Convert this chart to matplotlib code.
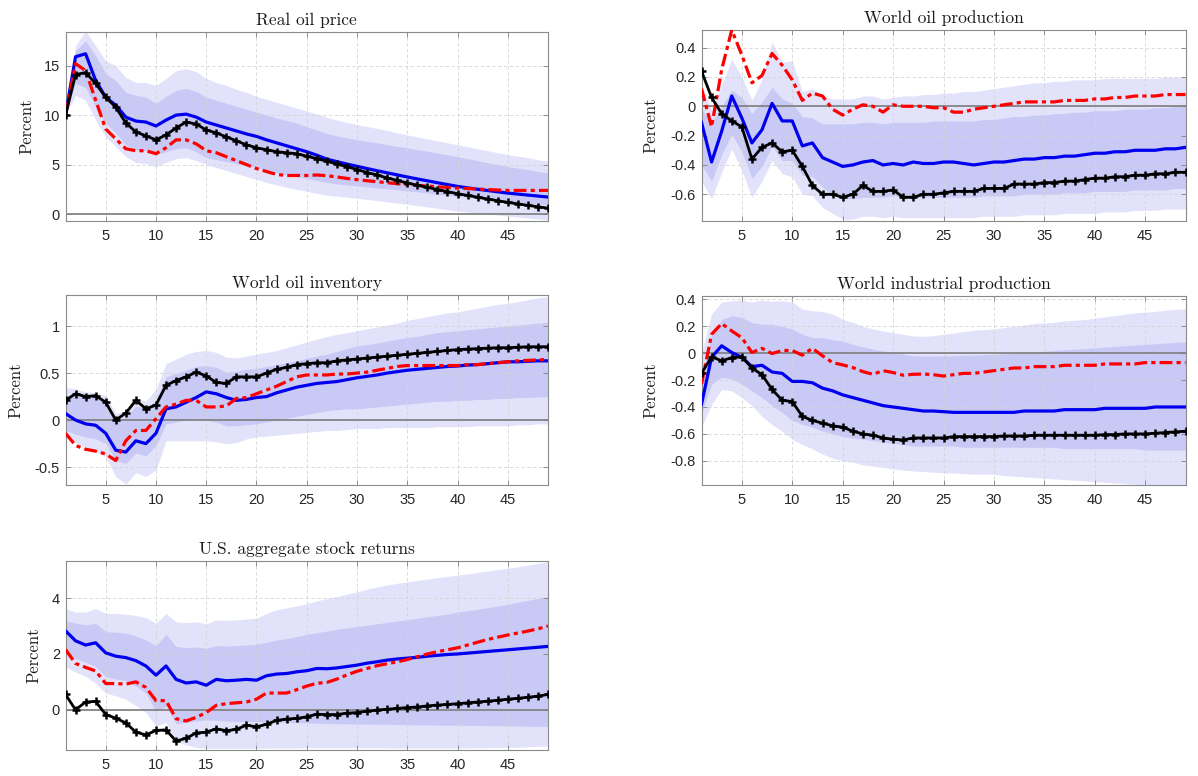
import numpy as np
import matplotlib.pyplot as plt

plt.rcParams['axes.unicode_minus'] = False

horizon = np.arange(1, 50)

# ---- Real oil price
price_blue = [10, 15.9, 16.2, 13.5, 11.8, 11.0, 9.8, 9.4, 9.3, 8.9,
              9.5, 10.0, 10.1, 9.8, 9.3, 9.0, 8.7, 8.4, 8.1, 7.85,
              7.5, 7.2, 6.9, 6.6, 6.3, 5.95, 5.55, 5.3, 5.05, 4.83,
              4.6, 4.38, 4.17, 3.96, 3.75, 3.55, 3.36, 3.17, 2.98, 2.8,
              2.65, 2.51, 2.38, 2.25, 2.12, 2.02, 1.92, 1.82, 1.72]
price_red = [10, 15.2, 14.5, 11.5, 8.6, 7.6, 6.6, 6.4, 6.4, 6.1,
             6.7, 7.5, 7.5, 7.1, 6.4, 6.2, 5.8, 5.4, 5.0, 4.6,
             4.3, 4.0, 3.9, 3.9, 3.9, 3.95, 3.88, 3.75, 3.6, 3.48,
             3.37, 3.27, 3.17, 3.07, 2.97, 2.9, 2.83, 2.76, 2.69, 2.63,
             2.58, 2.53, 2.48, 2.43, 2.39, 2.39, 2.39, 2.39, 2.39]
price_black = [10, 14.1, 14.3, 13.2, 11.8, 10.8, 9.2, 8.3, 7.9, 7.5,
               8.0, 8.7, 9.3, 9.1, 8.5, 8.2, 7.8, 7.4, 7.0, 6.7,
               6.5, 6.3, 6.2, 6.1, 5.85, 5.6, 5.35, 5.05, 4.8, 4.5,
               4.2, 3.95, 3.65, 3.4, 3.14, 2.92, 2.7, 2.48, 2.27, 2.06,
               1.88, 1.7, 1.52, 1.35, 1.18, 1.03, 0.88, 0.74, 0.6]
price_hi90 = [10, 17.0, 18.5, 17.0, 15.5, 15.0, 13.8, 13.3, 13.3, 13.0,
              13.7, 14.5, 14.7, 14.4, 13.7, 13.3, 13.0, 12.6, 12.3, 11.9,
              11.6, 11.3, 11.0, 10.7, 10.4, 10.1, 9.8, 9.5, 9.25, 9.05,
              8.85, 8.65, 8.45, 8.2, 8.0, 7.8, 7.6, 7.4, 7.2, 7.0,
              6.8, 6.6, 6.4, 6.2, 6.0, 5.85, 5.7, 5.5, 5.33]
price_hi68 = [10, 16.5, 17.5, 16.0, 14.2, 13.5, 12.3, 12.0, 11.8, 11.2,
              11.9, 12.5, 12.7, 12.4, 11.8, 11.5, 11.2, 10.9, 10.6, 10.3,
              10.0, 9.7, 9.45, 9.2, 8.8, 8.5, 8.15, 7.9, 7.7, 7.5,
              7.35, 7.2, 7.0, 6.85, 6.7, 6.5, 6.35, 6.15, 6.0, 5.8,
              5.6, 5.4, 5.2, 5.0, 4.8, 4.65, 4.5, 4.3, 4.15]
price_lo68 = [10, 13.2, 12.8, 10.8, 9.2, 8.2, 7.0, 6.5, 6.4, 6.0,
              6.3, 6.6, 6.7, 6.3, 5.7, 5.5, 5.3, 5.1, 4.9, 4.7,
              4.45, 4.2, 4.0, 3.8, 3.6, 3.4, 3.2, 3.05, 2.95, 2.85,
              2.75, 2.65, 2.55, 2.45, 2.35, 2.25, 2.12, 2.0, 1.9, 1.8,
              1.7, 1.6, 1.5, 1.4, 1.3, 1.2, 1.1, 1.0, 0.95]
price_lo90 = [10, 12.0, 11.5, 9.5, 7.8, 6.8, 5.8, 5.2, 5.1, 4.8,
              5.2, 5.6, 5.7, 5.4, 5.0, 4.7, 4.4, 4.1, 3.8, 3.5,
              3.2, 2.95, 2.7, 2.5, 2.3, 2.1, 1.9, 1.8, 1.7, 1.6,
              1.48, 1.36, 1.24, 1.12, 1.0, 0.86, 0.72, 0.58, 0.44, 0.3,
              0.2, 0.1, 0.0, -0.1, -0.2, -0.3, -0.4, -0.5, -0.6]

# ---- World oil production
prod_blue = [-0.11, -0.38, -0.17, 0.07, -0.08, -0.25, -0.16, 0.02, -0.10, -0.10,
             -0.27, -0.25, -0.35, -0.38, -0.41, -0.40, -0.38, -0.37, -0.40, -0.39,
             -0.40, -0.38, -0.39, -0.39, -0.38, -0.38, -0.39, -0.40, -0.39, -0.38,
             -0.38, -0.37, -0.36, -0.36, -0.35, -0.35, -0.34, -0.34, -0.33, -0.32,
             -0.32, -0.31, -0.31, -0.30, -0.30, -0.30, -0.29, -0.29, -0.28]
prod_red = [0.12, -0.14, 0.25, 0.52, 0.35, 0.16, 0.21, 0.36, 0.28, 0.18,
            0.04, 0.09, 0.07, -0.02, -0.06, -0.02, 0.01, 0.00, -0.04, 0.01,
            0.00, 0.00, 0.00, -0.01, -0.01, -0.04, -0.04, -0.02, -0.01, 0.00,
            0.01, 0.02, 0.03, 0.03, 0.03, 0.03, 0.04, 0.04, 0.04, 0.05,
            0.05, 0.06, 0.06, 0.07, 0.07, 0.07, 0.08, 0.08, 0.08]
prod_black = [0.24, 0.06, -0.05, -0.10, -0.14, -0.36, -0.28, -0.25, -0.31, -0.30,
              -0.41, -0.54, -0.60, -0.60, -0.62, -0.60, -0.54, -0.58, -0.58, -0.57,
              -0.62, -0.62, -0.60, -0.60, -0.59, -0.58, -0.58, -0.58, -0.56, -0.56,
              -0.56, -0.53, -0.53, -0.53, -0.52, -0.52, -0.51, -0.51, -0.50, -0.49,
              -0.49, -0.48, -0.48, -0.47, -0.47, -0.46, -0.46, -0.45, -0.45]
prod_hi90 = [0.15, -0.03, 0.15, 0.32, 0.2, 0.04, 0.18, 0.44, 0.3, 0.31,
             0.1, 0.12, 0.07, 0.05, 0.05, 0.05, 0.07, 0.07, 0.05, 0.06,
             0.07, 0.07, 0.08, 0.08, 0.09, 0.09, 0.1, 0.1, 0.11, 0.12,
             0.13, 0.14, 0.15, 0.16, 0.16, 0.17, 0.17, 0.18, 0.18, 0.18,
             0.19, 0.19, 0.19, 0.19, 0.19, 0.19, 0.2, 0.2, 0.2]
prod_hi68 = [-0.02, -0.11, 0.0, 0.11, 0.06, -0.05, 0.03, 0.13, 0.05, 0.02,
             -0.07, -0.08, -0.12, -0.12, -0.12, -0.12, -0.11, -0.11, -0.12, -0.11,
             -0.11, -0.11, -0.11, -0.1, -0.1, -0.1, -0.1, -0.1, -0.09, -0.09,
             -0.08, -0.07, -0.07, -0.06, -0.06, -0.05, -0.05, -0.04, -0.04, -0.03,
             -0.03, -0.03, -0.02, -0.02, -0.02, -0.01, -0.01, 0.0, 0.0]
prod_lo68 = [-0.4, -0.51, -0.33, -0.19, -0.31, -0.49, -0.41, -0.27, -0.37, -0.37,
             -0.47, -0.48, -0.55, -0.61, -0.63, -0.63, -0.62, -0.62, -0.62, -0.61,
             -0.62, -0.62, -0.62, -0.62, -0.62, -0.62, -0.62, -0.62, -0.61, -0.61,
             -0.61, -0.61, -0.6, -0.6, -0.6, -0.6, -0.59, -0.59, -0.59, -0.58,
             -0.58, -0.58, -0.58, -0.57, -0.57, -0.57, -0.57, -0.56, -0.56]
prod_lo90 = [-0.51, -0.63, -0.45, -0.29, -0.44, -0.62, -0.51, -0.37, -0.46, -0.48,
             -0.6, -0.61, -0.69, -0.73, -0.77, -0.77, -0.75, -0.75, -0.76, -0.75,
             -0.76, -0.76, -0.76, -0.76, -0.76, -0.76, -0.76, -0.76, -0.75, -0.75,
             -0.75, -0.75, -0.74, -0.74, -0.74, -0.74, -0.73, -0.73, -0.73, -0.73,
             -0.72, -0.72, -0.72, -0.71, -0.71, -0.71, -0.7, -0.7, -0.7]

# ---- World oil inventory
inv_blue = [0.07, 0.0, -0.04, -0.055, -0.14, -0.32, -0.34, -0.22, -0.25, -0.14,
            0.12, 0.14, 0.19, 0.24, 0.30, 0.28, 0.24, 0.21, 0.22, 0.24,
            0.25, 0.29, 0.32, 0.35, 0.37, 0.39, 0.40, 0.41, 0.43, 0.45,
            0.465, 0.48, 0.50, 0.515, 0.53, 0.54, 0.55, 0.56, 0.57, 0.575,
            0.585, 0.59, 0.60, 0.61, 0.62, 0.62, 0.625, 0.63, 0.63]
inv_red = [-0.14, -0.27, -0.31, -0.33, -0.36, -0.43, -0.22, -0.11, -0.11, 0.015,
           0.14, 0.17, 0.21, 0.21, 0.14, 0.14, 0.15, 0.23, 0.24, 0.28,
           0.32, 0.36, 0.41, 0.46, 0.48, 0.48, 0.48, 0.49, 0.49, 0.50,
           0.51, 0.53, 0.55, 0.57, 0.58, 0.58, 0.58, 0.58, 0.58, 0.58,
           0.59, 0.59, 0.60, 0.61, 0.62, 0.63, 0.635, 0.64, 0.645]
inv_black = [0.21, 0.28, 0.25, 0.26, 0.19, 0.0, 0.075, 0.21, 0.12, 0.16,
             0.37, 0.42, 0.46, 0.51, 0.47, 0.40, 0.39, 0.46, 0.46, 0.46,
             0.50, 0.54, 0.56, 0.59, 0.60, 0.61, 0.61, 0.63, 0.64, 0.65,
             0.66, 0.67, 0.68, 0.69, 0.70, 0.71, 0.72, 0.73, 0.74, 0.75,
             0.755, 0.76, 0.765, 0.77, 0.77, 0.775, 0.78, 0.78, 0.78]
inv_hi90 = [0.35, 0.33, 0.3, 0.29, 0.26, 0.07, 0.1, 0.23, 0.2, 0.33,
            0.6, 0.65, 0.7, 0.73, 0.74, 0.72, 0.67, 0.66, 0.68, 0.7,
            0.72, 0.74, 0.77, 0.8, 0.83, 0.86, 0.89, 0.91, 0.93, 0.95,
            0.97, 0.99, 1.01, 1.03, 1.06, 1.08, 1.1, 1.12, 1.14, 1.15,
            1.17, 1.19, 1.21, 1.23, 1.24, 1.26, 1.28, 1.3, 1.31]
inv_hi68 = [0.26, 0.27, 0.25, 0.24, 0.19, 0.0, 0.03, 0.15, 0.12, 0.21,
            0.46, 0.5, 0.53, 0.57, 0.58, 0.56, 0.51, 0.52, 0.54, 0.55,
            0.57, 0.59, 0.61, 0.63, 0.66, 0.68, 0.7, 0.73, 0.76, 0.79,
            0.8, 0.82, 0.84, 0.86, 0.88, 0.89, 0.91, 0.93, 0.94, 0.95,
            0.96, 0.97, 0.98, 0.99, 1.0, 1.01, 1.02, 1.03, 1.04]
inv_lo68 = [-0.11, -0.15, -0.18, -0.2, -0.25, -0.43, -0.46, -0.35, -0.38, -0.27,
            -0.04, -0.02, 0.0, 0.02, 0.0, -0.02, -0.06, -0.06, -0.05, -0.04,
            -0.02, 0.0, 0.02, 0.04, 0.06, 0.08, 0.1, 0.11, 0.12, 0.12,
            0.13, 0.14, 0.15, 0.16, 0.17, 0.18, 0.19, 0.2, 0.2, 0.21,
            0.21, 0.22, 0.22, 0.23, 0.23, 0.24, 0.24, 0.245, 0.25]
inv_lo90 = [-0.18, -0.24, -0.29, -0.33, -0.39, -0.6, -0.68, -0.56, -0.6, -0.53,
            -0.22, -0.22, -0.22, -0.22, -0.22, -0.23, -0.25, -0.24, -0.2, -0.18,
            -0.17, -0.16, -0.15, -0.14, -0.13, -0.12, -0.11, -0.11, -0.1, -0.09,
            -0.09, -0.09, -0.08, -0.08, -0.08, -0.08, -0.08, -0.07, -0.07, -0.07,
            -0.07, -0.06, -0.06, -0.06, -0.06, -0.05, -0.05, -0.04, -0.04]

# ---- World industrial production
ip_blue = [-0.38, -0.03, 0.055, 0.005, -0.03, -0.1, -0.09, -0.14, -0.15, -0.21,
           -0.21, -0.22, -0.26, -0.28, -0.31, -0.33, -0.35, -0.37, -0.39, -0.40,
           -0.41, -0.42, -0.43, -0.43, -0.435, -0.44, -0.44, -0.44, -0.44, -0.44,
           -0.44, -0.44, -0.43, -0.43, -0.43, -0.43, -0.42, -0.42, -0.42, -0.42,
           -0.41, -0.41, -0.41, -0.41, -0.41, -0.40, -0.40, -0.40, -0.40]
ip_red = [-0.23, 0.14, 0.22, 0.165, 0.115, 0.005, 0.036, -0.003, 0.02, 0.02,
          -0.015, 0.036, -0.02, -0.07, -0.087, -0.107, -0.137, -0.157, -0.13, -0.144,
          -0.164, -0.157, -0.155, -0.16, -0.17, -0.16, -0.15, -0.15, -0.14, -0.13,
          -0.12, -0.11, -0.11, -0.10, -0.10, -0.10, -0.09, -0.09, -0.09, -0.09,
          -0.08, -0.08, -0.08, -0.08, -0.07, -0.07, -0.07, -0.07, -0.07]
ip_black = [-0.15, -0.027, -0.057, -0.033, -0.027, -0.11, -0.16, -0.27, -0.35, -0.36,
            -0.47, -0.50, -0.52, -0.54, -0.55, -0.58, -0.60, -0.61, -0.63, -0.64,
            -0.645, -0.63, -0.63, -0.63, -0.63, -0.62, -0.62, -0.62, -0.62, -0.62,
            -0.615, -0.615, -0.615, -0.61, -0.61, -0.61, -0.61, -0.61, -0.61, -0.61,
            -0.605, -0.605, -0.60, -0.60, -0.60, -0.595, -0.59, -0.585, -0.58]
ip_hi90 = [0.0, 0.29, 0.38, 0.39, 0.395, 0.38, 0.395, 0.385, 0.39, 0.38,
           0.327, 0.315, 0.31, 0.29, 0.25, 0.23, 0.2, 0.18, 0.165, 0.153,
           0.14, 0.128, 0.125, 0.13, 0.14, 0.15, 0.16, 0.17, 0.175, 0.18,
           0.19, 0.2, 0.21, 0.22, 0.225, 0.23, 0.24, 0.245, 0.25, 0.26,
           0.27, 0.28, 0.29, 0.3, 0.305, 0.31, 0.32, 0.325, 0.33]
ip_hi68 = [-0.2, 0.14, 0.25, 0.277, 0.265, 0.228, 0.215, 0.215, 0.2, 0.18,
           0.14, 0.115, 0.115, 0.1, 0.09, 0.066, 0.047, 0.03, 0.017, 0.005,
           -0.007, -0.02, -0.02, -0.02, -0.02, -0.02, -0.015, -0.015, -0.01, -0.01,
           -0.005, 0.0, 0.005, 0.01, 0.015, 0.02, 0.025, 0.03, 0.035, 0.04,
           0.045, 0.05, 0.055, 0.06, 0.065, 0.07, 0.075, 0.08, 0.084]
ip_lo68 = [-0.45, -0.23, -0.18, -0.19, -0.23, -0.28, -0.33, -0.39, -0.44, -0.5,
           -0.53, -0.55, -0.58, -0.6, -0.62, -0.63, -0.64, -0.65, -0.66, -0.67,
           -0.68, -0.69, -0.69, -0.69, -0.69, -0.69, -0.7, -0.7, -0.7, -0.7,
           -0.7, -0.7, -0.7, -0.7, -0.7, -0.7, -0.71, -0.71, -0.71, -0.71,
           -0.71, -0.71, -0.71, -0.71, -0.72, -0.72, -0.72, -0.72, -0.72]
ip_lo90 = [-0.55, -0.38, -0.27, -0.28, -0.33, -0.39, -0.47, -0.53, -0.58, -0.64,
           -0.68, -0.71, -0.75, -0.78, -0.8, -0.81, -0.83, -0.84, -0.85, -0.86,
           -0.87, -0.875, -0.88, -0.885, -0.89, -0.89, -0.895, -0.9, -0.9, -0.9,
           -0.91, -0.915, -0.92, -0.925, -0.93, -0.935, -0.94, -0.945, -0.95, -0.955,
           -0.96, -0.965, -0.97, -0.975, -0.98, -0.98, -0.98, -0.98, -0.98]

# ---- U.S. aggregate stock returns
stock_blue = [2.83, 2.47, 2.32, 2.4, 2.04, 1.92, 1.87, 1.76, 1.57, 1.24,
              1.57, 1.09, 0.96, 1.0, 0.88, 1.09, 1.04, 1.06, 1.09, 1.06,
              1.22, 1.28, 1.3, 1.36, 1.4, 1.48, 1.47, 1.5, 1.55, 1.6,
              1.67, 1.72, 1.78, 1.82, 1.85, 1.88, 1.92, 1.95, 1.98, 2.0,
              2.03, 2.06, 2.09, 2.12, 2.15, 2.18, 2.21, 2.24, 2.27]
stock_red = [2.16, 1.66, 1.52, 1.39, 0.94, 0.94, 0.92, 1.0, 0.8, 0.33,
             0.33, -0.32, -0.4, -0.27, -0.1, 0.16, 0.22, 0.25, 0.28, 0.38,
             0.6, 0.6, 0.6, 0.72, 0.85, 0.95, 0.98, 1.1, 1.25, 1.38,
             1.48, 1.58, 1.65, 1.72, 1.8, 1.9, 2.0, 2.08, 2.15, 2.22,
             2.32, 2.42, 2.52, 2.6, 2.68, 2.75, 2.82, 2.9, 3.0]
stock_black = [0.55, 0.0, 0.28, 0.3, -0.17, -0.3, -0.47, -0.8, -0.9, -0.74,
               -0.72, -1.12, -1.02, -0.83, -0.8, -0.68, -0.75, -0.7, -0.55, -0.61,
               -0.52, -0.38, -0.33, -0.31, -0.25, -0.16, -0.17, -0.17, -0.12, -0.10,
               -0.05, -0.01, 0.02, 0.05, 0.08, 0.10, 0.14, 0.17, 0.19, 0.22,
               0.25, 0.28, 0.31, 0.34, 0.38, 0.41, 0.45, 0.49, 0.55]
stock_hi90 = [3.62, 3.5, 3.5, 3.62, 3.45, 3.45, 3.42, 3.38, 3.3, 3.1,
              3.45, 3.15, 3.12, 3.15, 3.08, 3.22, 3.2, 3.22, 3.25, 3.28,
              3.45, 3.58, 3.65, 3.72, 3.8, 3.9, 3.98, 4.06, 4.14, 4.22,
              4.32, 4.4, 4.47, 4.53, 4.58, 4.63, 4.68, 4.73, 4.78, 4.82,
              4.87, 4.92, 4.97, 5.02, 5.07, 5.12, 5.18, 5.24, 5.3]
stock_hi68 = [3.2, 3.1, 3.04, 3.1, 2.8, 2.78, 2.75, 2.65, 2.5, 2.3,
              2.7, 2.27, 2.22, 2.25, 2.2, 2.3, 2.28, 2.3, 2.32, 2.35,
              2.42, 2.5, 2.55, 2.62, 2.7, 2.76, 2.82, 2.88, 2.93, 2.98,
              3.03, 3.08, 3.13, 3.18, 3.23, 3.28, 3.33, 3.38, 3.43, 3.5,
              3.55, 3.6, 3.66, 3.72, 3.78, 3.85, 3.92, 3.99, 4.05]
stock_lo68 = [2.0, 1.85, 1.7, 1.55, 1.2, 1.1, 1.05, 0.85, 0.6, -0.06,
              0.12, -0.5, -0.45, -0.4, -0.36, -0.38, -0.4, -0.42, -0.42, -0.42,
              -0.43, -0.44, -0.45, -0.46, -0.47, -0.48, -0.49, -0.5, -0.5, -0.51,
              -0.51, -0.52, -0.52, -0.53, -0.53, -0.54, -0.54, -0.55, -0.55, -0.55,
              -0.56, -0.56, -0.57, -0.57, -0.58, -0.58, -0.59, -0.59, -0.6]
stock_lo90 = [1.55, 1.35, 1.2, 0.95, 0.6, 0.5, 0.38, 0.15, -0.1, -0.58,
              -0.45, -1.12, -1.25, -1.35, -1.38, -1.38, -1.38, -1.38, -1.38, -1.38,
              -1.37, -1.37, -1.37, -1.37, -1.36, -1.36, -1.36, -1.36, -1.36, -1.36,
              -1.36, -1.36, -1.37, -1.37, -1.37, -1.37, -1.37, -1.37, -1.37, -1.37,
              -1.37, -1.36, -1.36, -1.35, -1.35, -1.34, -1.33, -1.31, -1.29]

xticks = [5, 10, 15, 20, 25, 30, 35, 40, 45]

W, H = 1198, 776
fig = plt.figure(figsize=(W / 100, H / 100), dpi=100)


def rect(left, right, top, bottom):
    return [left / W, 1 - bottom / H, (right - left) / W, (bottom - top) / H]


panels = [
    ('Real oil price', rect(65.5, 548, 32, 221), (-0.7, 18.4), [0, 5, 10, 15], -0.065,
     price_blue, price_red, price_black, price_lo90, price_hi90, price_lo68, price_hi68),
    ('World oil production', rect(701.5, 1185.5, 30, 220.7), (-0.78, 0.52),
     [-0.6, -0.4, -0.2, 0, 0.2, 0.4], -0.088,
     prod_blue, prod_red, prod_black, prod_lo90, prod_hi90, prod_lo68, prod_hi68),
    ('World oil inventory', rect(65.5, 548, 295, 485), (-0.69, 1.33), [-0.5, 0, 0.5, 1], -0.087,
     inv_blue, inv_red, inv_black, inv_lo90, inv_hi90, inv_lo68, inv_hi68),
    ('World industrial production', rect(701.5, 1185.5, 296, 485), (-0.98, 0.425),
     [-0.8, -0.6, -0.4, -0.2, 0, 0.2, 0.4], -0.088,
     ip_blue, ip_red, ip_black, ip_lo90, ip_hi90, ip_lo68, ip_hi68),
    ('U.S. aggregate stock returns', rect(65.5, 548, 560.7, 750), (-1.44, 5.34), [0, 2, 4], -0.049,
     stock_blue, stock_red, stock_black, stock_lo90, stock_hi90, stock_lo68, stock_hi68),
]

for title, pos, ylim, yticks, labx, blue, red, black, lo90, hi90, lo68, hi68 in panels:
    ax = fig.add_axes(pos)
    ax.fill_between(horizon, lo90, hi90, color='#e2e2fb', lw=0, zorder=1)
    ax.fill_between(horizon, lo68, hi68, color='#c9c9f6', lw=0, zorder=1.1)
    ax.axhline(0, color='#7d7d7d', lw=1.2, zorder=1.6)
    ax.plot(horizon, blue, color='#0000ee', lw=2.3, zorder=3)
    ax.plot(horizon, red, color='#ff0000', lw=2.3, dashes=(4, 1.3, 1.3, 1.3), zorder=3)
    ax.plot(horizon, black, color='black', lw=2.0, marker='+', ms=6, mew=1.8, zorder=4)

    ax.set_xlim(1, 49)
    ax.set_ylim(*ylim)
    ax.set_xticks(xticks)
    ax.set_yticks(yticks)
    ax.set_yticklabels(['%g' % v for v in yticks])
    ax.grid(True, ls=(0, (4, 3)), color='#d4d4d4', lw=0.6)
    ax.tick_params(direction='in', length=3.5, width=0.6, top=True, right=True,
                   color='#808080', labelcolor='#262626', labelsize=10.5)
    ax.tick_params(axis='x', pad=6)
    ax.tick_params(axis='y', pad=4)
    for lab in ax.get_xticklabels() + ax.get_yticklabels():
        lab.set_fontfamily(['Liberation Sans', 'DejaVu Sans'])
    for sp in ax.spines.values():
        sp.set_color('#8a8a8a')
        sp.set_linewidth(0.8)

    ax.set_title(title, fontfamily='cmr10', fontsize=12.5, pad=5, color='#1a1a1a')
    ax.set_ylabel('Percent', fontfamily='cmr10', fontsize=12, color='#1a1a1a')
    ax.yaxis.set_label_coords(labx, 0.5)

fig.savefig('out.png', dpi=100)
